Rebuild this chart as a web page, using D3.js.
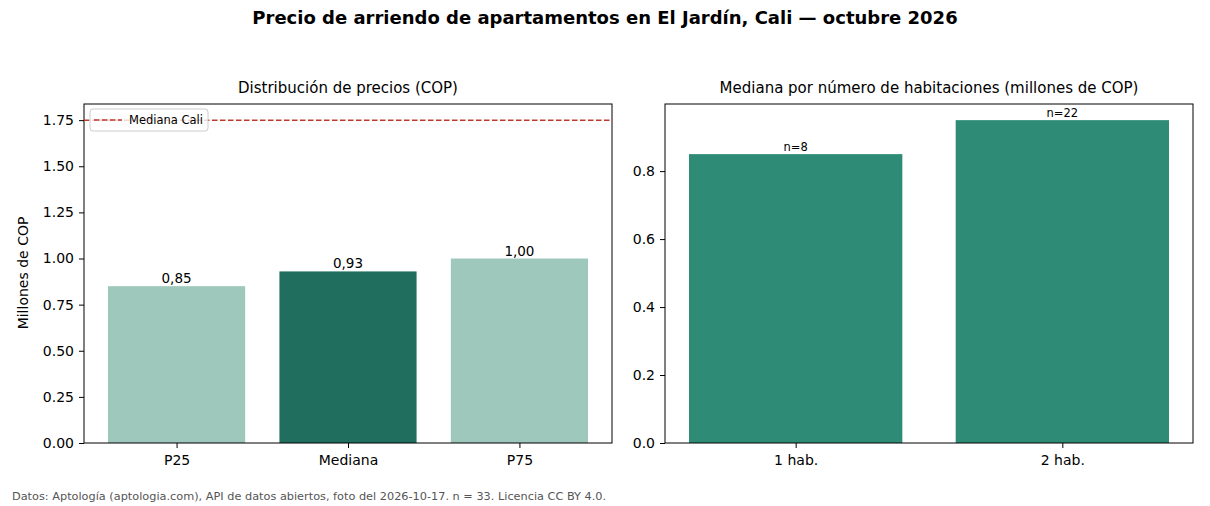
<!DOCTYPE html>
<html><head><meta charset="utf-8">
<script src="https://cdn.jsdelivr.net/npm/d3@7"></script>
<style>body{margin:0;background:#fff;}svg{font-family:"DejaVu Sans",sans-serif;}</style>
</head><body>
<svg id="c" width="1210" height="506"></svg>
<script>
const distCategories = ["P25", "Mediana", "P75"];
const distValues = [0.85, 0.93, 1.00];
const distLabels = ["0,85", "0,93", "1,00"];
const caliMedian = 1.75;
const roomCategories = ["1 hab.", "2 hab."];
const roomValues = [0.85, 0.95];
const roomCounts = ["n=8", "n=22"];
const leftTicks = [0, 0.25, 0.5, 0.75, 1.0, 1.25, 1.5, 1.75];
const rightTicks = [0, 0.2, 0.4, 0.6, 0.8];

const svg = d3.select("#c");
const colLight = "#9ec8bb", colDark = "#1f6e5e", colMid = "#2e8b76", colRed = "#c0392b";

svg.append("text").attr("x", 605).attr("y", 24).attr("text-anchor", "middle")
  .attr("font-size", 18).attr("font-weight", "bold").text("Precio de arriendo de apartamentos en El Jardín, Cali — octubre 2026");

function panel(x0, x1, y0, y1, cats, vals, ymax, ticks, fmt, colors, title) {
  const n = cats.length;
  const span = (n - 1) + 0.8;
  const m = span * 0.05;
  const x = d3.scaleLinear().domain([-0.4 - m, n - 1 + 0.4 + m]).range([x0, x1]);
  const y = d3.scaleLinear().domain([0, ymax]).range([y1, y0]);
  const g = svg.append("g");
  g.selectAll("rect.bar").data(vals).join("rect").attr("class", "bar")
    .attr("x", (d, i) => x(i - 0.4)).attr("width", (d, i) => x(i + 0.4) - x(i - 0.4))
    .attr("y", d => y(d)).attr("height", d => y(0) - y(d))
    .attr("fill", (d, i) => colors[i]);
  const ya = g.append("g").attr("transform", `translate(${x0},0)`)
    .call(d3.axisLeft(y).tickValues(ticks).tickFormat(fmt).tickSize(5).tickPadding(5));
  const xa = g.append("g").attr("transform", `translate(0,${y1})`)
    .call(d3.axisBottom(x).tickValues(d3.range(n)).tickFormat(i => cats[i]).tickSize(5).tickPadding(7));
  [ya, xa].forEach(a => {
    a.select(".domain").remove();
    a.selectAll("text").attr("font-size", 14).attr("fill", "#000").attr("font-family", "DejaVu Sans");
    a.selectAll("line").attr("stroke", "#000");
  });
  g.append("rect").attr("x", x0).attr("y", y0).attr("width", x1 - x0).attr("height", y1 - y0)
    .attr("fill", "none").attr("stroke", "#000").attr("stroke-width", 1);
  svg.append("text").attr("x", (x0 + x1) / 2).attr("y", y0 - 11).attr("text-anchor", "middle")
    .attr("font-size", 15).text(title);
  return {x, y, g};
}

const L = panel(84, 612, 104, 443, distCategories, distValues, caliMedian * 1.05, leftTicks,
  d => d3.format(".2f")(d), [colLight, colDark, colLight], "Distribución de precios (COP)");
L.g.selectAll("text.val").data(distValues).join("text").attr("class", "val")
  .attr("x", (d, i) => L.x(i)).attr("y", d => L.y(d) - 3).attr("text-anchor", "middle")
  .attr("font-size", 13.5).text((d, i) => distLabels[i]);
L.g.append("line").attr("x1", 84).attr("x2", 612).attr("y1", L.y(caliMedian)).attr("y2", L.y(caliMedian))
  .attr("stroke", colRed).attr("stroke-width", 1.5).attr("stroke-dasharray", "5.5,2.5");
const lg = L.g.append("g");
lg.append("rect").attr("x", 90).attr("y", 109).attr("width", 118).attr("height", 22).attr("rx", 3)
  .attr("fill", "#fff").attr("fill-opacity", 0.8).attr("stroke", "#ccc");
lg.append("line").attr("x1", 94).attr("x2", 122).attr("y1", 120).attr("y2", 120)
  .attr("stroke", colRed).attr("stroke-width", 1.5).attr("stroke-dasharray", "5.5,2.5");
lg.append("text").attr("x", 129).attr("y", 124).attr("font-size", 11.5).text("Mediana Cali");
svg.append("text").attr("transform", "translate(28,273) rotate(-90)").attr("text-anchor", "middle")
  .attr("font-size", 14).text("Millones de COP");

const R = panel(665, 1193, 104, 443, roomCategories, roomValues, Math.max(...roomValues) * 1.05, rightTicks,
  d => d3.format(".1f")(d), [colMid, colMid], "Mediana por número de habitaciones (millones de COP)");
R.g.selectAll("text.cnt").data(roomValues).join("text").attr("class", "cnt")
  .attr("x", (d, i) => R.x(i)).attr("y", d => R.y(d) - 3).attr("text-anchor", "middle")
  .attr("font-size", 11.5).text((d, i) => roomCounts[i]);

svg.append("text").attr("x", 12).attr("y", 500).attr("font-size", 11.3).attr("fill", "#555")
  .text("Datos: Aptología (aptologia.com), API de datos abiertos, foto del 2026-10-17. n = 33. Licencia CC BY 4.0.");
</script>
</body></html>
